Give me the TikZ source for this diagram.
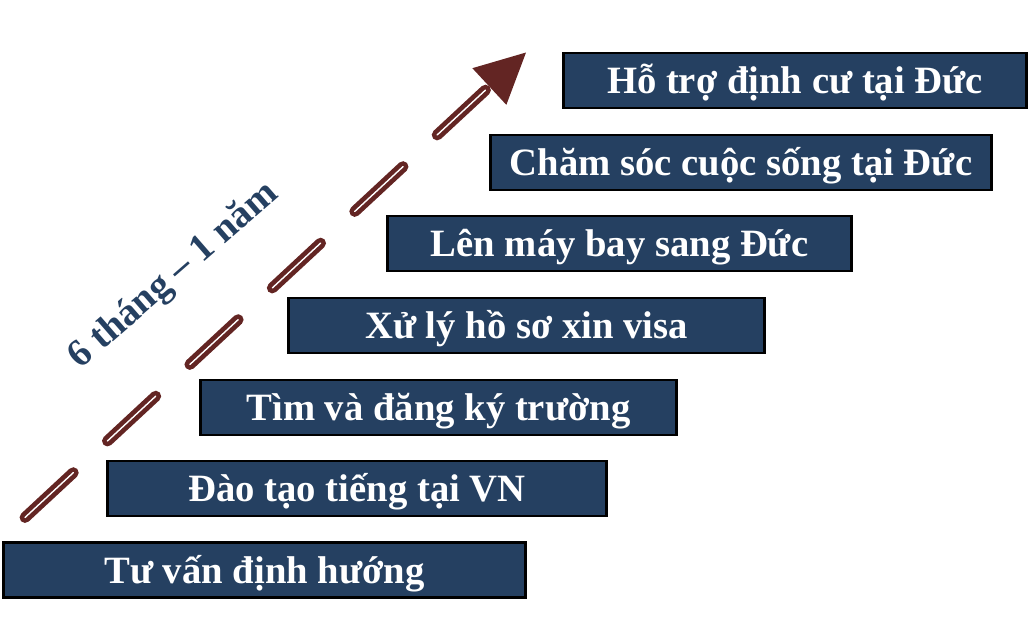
\documentclass[tikz,border=0pt]{standalone}
\usepackage{fontspec}
\setmainfont{Liberation Serif}
\usetikzlibrary{calc}
\definecolor{navy}{RGB}{37,64,97}
\definecolor{darkred}{RGB}{99,37,35}

\begin{document}
\begin{tikzpicture}[
	stepbox/.style={draw=black,line width=1.7pt,fill=navy,text=white,
		font=\fontsize{22}{26}\selectfont\bfseries,
		minimum height=1.1cm,inner sep=0pt,text height=0.72cm,text depth=0.2cm},
	arrowline/.style={draw=darkred,line width=2.7pt,double=white,double distance=0.8pt,
		line cap=round,dash pattern=on 37.5pt off 26.5pt}]
	\useasboundingbox (0,0) rectangle (20.6,12.34);
	% the steps, bottom to top
	\node[stepbox,minimum width=10.44cm] (s1) at (5.29,0.94) {Tư vấn định hướng};
	\node[stepbox,minimum width=9.98cm] (s2) at (7.14,2.57) {Đào tạo tiếng tại VN};
	\node[stepbox,minimum width=9.52cm] (s3) at (8.77,4.19) {Tìm và đăng ký trường};
	\node[stepbox,minimum width=9.52cm] (s4) at (10.53,5.83) {Xử lý hồ sơ xin visa};
	\node[stepbox,minimum width=9.28cm] (s5) at (12.39,7.47) {Lên máy bay sang Đức};
	\node[stepbox,minimum width=10.02cm] (s6) at (14.82,9.09) {Chăm sóc cuộc sống tại Đức};
	\node[stepbox,minimum width=9.26cm] (s7) at (15.9,10.73) {Hỗ trợ định cư tại Đức};
	% dashed arrow
	\coordinate (start) at (0.5,1.99);
	\coordinate (tip) at (10.52,11.29);
	\coordinate (base) at ($(tip)!1cm!(start)$);
	\draw[arrowline] (start) -- ($(tip)!0.8cm!(start)$);
	\fill[darkred] (tip) -- ($(base)!0.5cm!90:(tip)$) -- ($(base)!0.5cm!-90:(tip)$) -- cycle;
	\node[rotate=41,text=navy,font=\fontsize{22}{26}\selectfont\bfseries] (time) at (3.48,6.82) {6 tháng – 1 năm};
\end{tikzpicture}
\end{document}
